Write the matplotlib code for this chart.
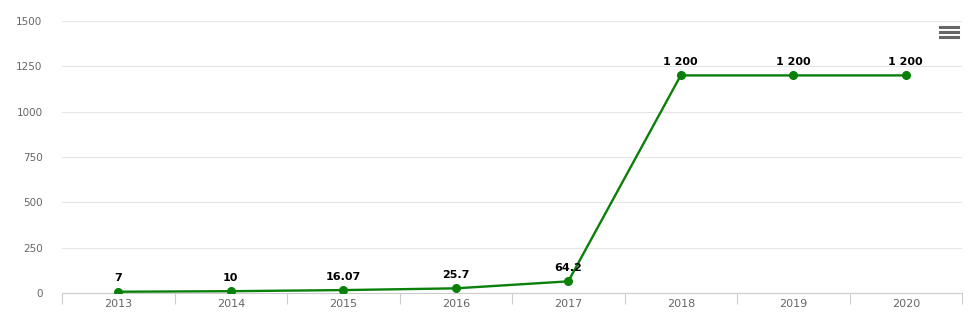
import matplotlib
matplotlib.use("Agg")
import matplotlib.pyplot as plt
from matplotlib.lines import Line2D

years = ["2013", "2014", "2015", "2016", "2017", "2018", "2019", "2020"]
values = [7, 10, 16.07, 25.7, 64.2, 1200, 1200, 1200]
labels = ["7", "10", "16.07", "25.7", "64.2", "1 200", "1 200", "1 200"]
yticks = [0, 250, 500, 750, 1000, 1250, 1500]

fig = plt.figure(figsize=(9.8, 3.19), dpi=100)
ax = fig.add_axes([62 / 980, 1 - 293 / 319, 900 / 980, 272 / 319])

x = list(range(len(years)))
ax.plot(x, values, color="#0a800a", lw=1.7, marker="o", ms=5.5, zorder=3)
for xi, v, lab in zip(x, values, labels):
    ax.annotate(lab, (xi, v), xytext=(0, 6), textcoords="offset points",
                ha="center", va="bottom", fontsize=8, fontweight="bold", color="black")

ax.set_xlim(-0.5, len(years) - 0.5)
ax.set_ylim(0, 1500)
ax.set_yticks(yticks)
ax.set_yticklabels([str(t) for t in yticks], fontsize=7.5, color="#666666")
ax.set_xticks(x)
ax.set_xticklabels(years, fontsize=8, color="#666666")
ax.tick_params(axis="y", length=0, pad=14)
ax.tick_params(axis="x", length=0, pad=4)
# tick marks between categories
ax.set_xticks([i + 0.5 for i in range(-1, len(years))], minor=True)
ax.tick_params(axis="x", which="minor", length=8, color="#cccccc", width=0.8)

ax.grid(axis="y", color="#e6e6e6", lw=0.8)
ax.set_axisbelow(True)
for s in ["top", "right", "left"]:
    ax.spines[s].set_visible(False)
ax.spines["bottom"].set_color("#cccccc")
ax.spines["bottom"].set_linewidth(0.8)

# menu icon
for yy in (27, 32, 37):
    fig.add_artist(Line2D([940 / 980, 958 / 980], [1 - yy / 319] * 2,
                          color="#666666", lw=2.2, transform=fig.transFigure))

fig.savefig("out.png", dpi=100, facecolor="white")
